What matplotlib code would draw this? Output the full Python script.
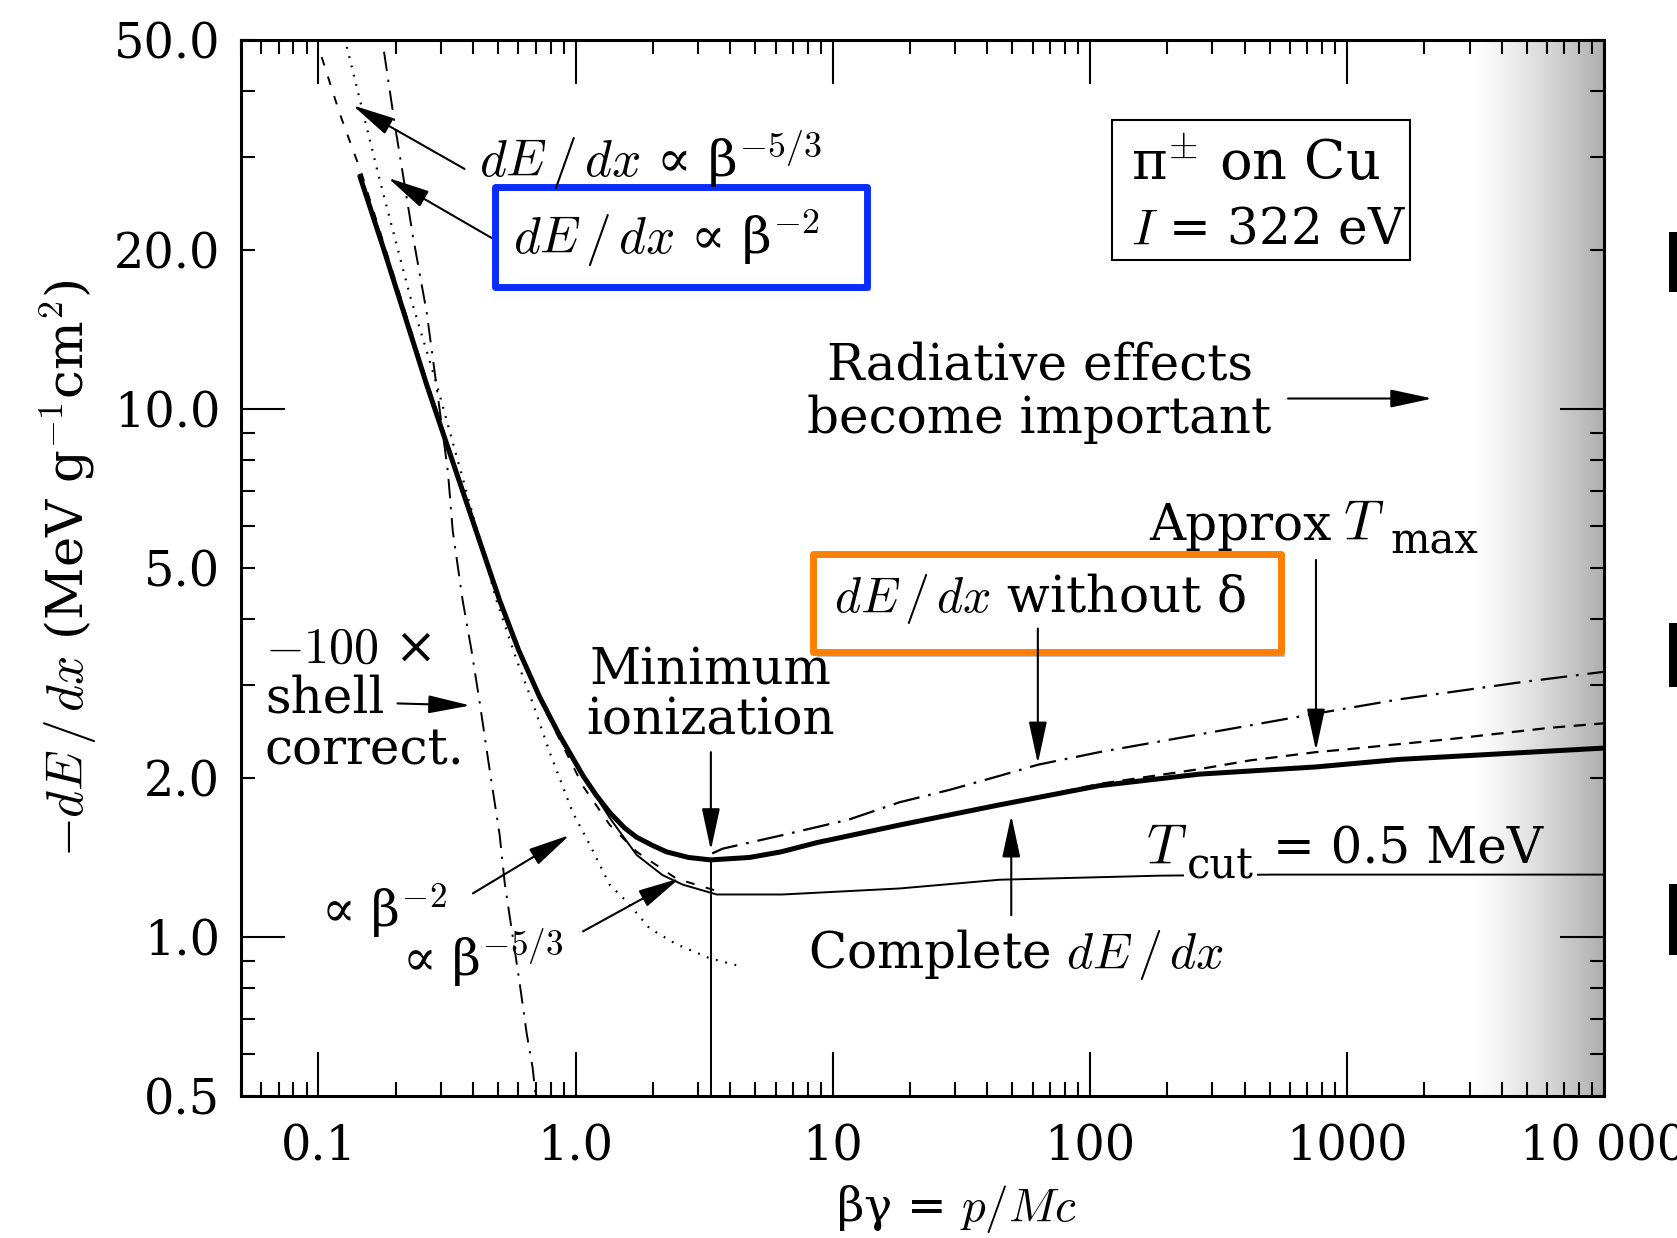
import matplotlib
matplotlib.use("Agg")
import matplotlib.pyplot as plt
import numpy as np
import matplotlib.patheffects as pe
from matplotlib.patches import Rectangle
from matplotlib.ticker import FixedLocator, FixedFormatter, FuncFormatter

plt.rcParams.update({
    "font.family": "serif",
    "font.serif": ["DejaVu Serif"],
    "mathtext.fontset": "cm",
    "font.size": 36,
})

# ---------- curves (beta*gamma, -dE/dx) ----------
complete_bg = [0.145, 0.18, 0.264, 0.507, 0.6, 0.725, 0.867, 1.07, 1.2, 1.36, 1.55,
               1.73, 2.0, 2.26, 2.75, 3.35, 4.75, 6.3, 8.7, 18.2, 44.6, 109, 267,
               759, 1600, 6120, 10000]
complete_val = [27.6, 20.0, 11.1, 4.34, 3.5, 2.85, 2.41, 2.02, 1.86, 1.72, 1.61,
                1.545, 1.49, 1.45, 1.415, 1.40, 1.415, 1.45, 1.51, 1.63, 1.78, 1.935,
                2.035, 2.10, 2.17, 2.25, 2.28]

no_delta_bg = [3.4, 3.73, 6.39, 11.6, 18.2, 28.5, 44.6, 62.8, 109, 267, 759, 1600, 4560, 10000]
no_delta_val = [1.44, 1.47, 1.56, 1.67, 1.80, 1.90, 2.02, 2.12, 2.24, 2.42, 2.65, 2.82, 3.03, 3.18]

tmax_bg = [18.2, 44.6, 109, 267, 418, 759, 1023, 1600, 2500, 6120, 10000]
tmax_val = [1.63, 1.78, 1.95, 2.08, 2.16, 2.24, 2.27, 2.32, 2.37, 2.49, 2.54]

tcut_bg = [1.07, 1.36, 1.73, 2.18, 2.61, 3.54, 6.39, 18.2, 44.6, 187, 514, 10000]
tcut_val = [2.02, 1.68, 1.43, 1.31, 1.257, 1.204, 1.204, 1.236, 1.284, 1.307, 1.313, 1.313]

beta2_bg = [0.129, 0.173, 0.227, 0.289, 0.493, 0.59, 0.681, 0.793, 0.976, 1.137,
            1.357, 1.58, 1.94, 2.47, 3.32, 4.35]
beta2_val = [48.5, 27.2, 16.4, 11.1, 4.34, 3.35, 2.78, 2.24, 1.72, 1.495,
             1.257, 1.168, 1.039, 0.969, 0.912, 0.881]

beta53_bg = [0.103, 0.121, 0.147, 0.18, 0.264, 0.507, 0.725, 1.07, 1.36, 1.73, 2.47, 3.6]
beta53_val = [46.4, 36.3, 28.0, 20.5, 11.3, 4.36, 2.82, 1.93, 1.63, 1.45, 1.29, 1.22]

shell_bg = [0.18, 0.198, 0.233, 0.264, 0.319, 0.333, 0.364, 0.394, 0.424, 0.463,
            0.507, 0.53, 0.607, 0.646, 0.681, 0.70]
shell_val = [47.5, 34.7, 21.3, 15.2, 7.6, 5.88, 4.34, 3.49, 2.78, 2.08,
             1.56, 1.27, 0.815, 0.656, 0.566, 0.50]

min_ion_bg = 3.36
min_ion_val = 1.40

x_major = [0.1, 1, 10, 100, 1000, 10000]
x_major_labels = ["0.1", "1.0", "10", "100", "1000", "10 000"]
y_major = [1, 10]
y_major_labels = ["1.0", "10.0"]
y_minor_labels = {0.5: "0.5", 2.0: "2.0", 5.0: "5.0", 20.0: "20.0", 50.0: "50.0"}

# ---------- figure ----------
fig = plt.figure(figsize=(16.77, 12.38), dpi=100)
ax = fig.add_axes([0.1437, 0.1147, 0.8128, 0.853])
ax.set_xscale("log")
ax.set_yscale("log")
ax.set_xlim(0.05, 10000)
ax.set_ylim(0.5, 50)

# shaded "radiative" band at the right edge
gax = ax.inset_axes([0.90, 0.0, 0.10, 1.0], zorder=0.5)
ramp = np.linspace(0, 1, 256) ** 1.3
rgba = np.zeros((1, 256, 4))
rgba[..., :3] = 0.45
rgba[..., 3] = ramp * 0.58
gax.imshow(rgba, aspect="auto", extent=(0, 1, 0, 1), interpolation="bilinear")
gax.axis("off")

# curves
ax.plot(complete_bg, complete_val, color="black", lw=3.6, solid_capstyle="round",
        solid_joinstyle="round", zorder=3)
ax.plot(tcut_bg, tcut_val, color="black", lw=1.4, zorder=2)
ax.plot(no_delta_bg, no_delta_val, color="black", lw=1.6,
        linestyle=(0, (12, 4, 1.2, 4)), zorder=2)
ax.plot(tmax_bg, tmax_val, color="black", lw=1.6, linestyle=(0, (5.5, 3.8)), zorder=2)
ax.plot(beta2_bg, beta2_val, color="black", lw=1.6, linestyle=(0, (0.8, 3.5)), zorder=2)
ax.plot(beta53_bg, beta53_val, color="black", lw=1.4, linestyle=(0, (4.5, 6)), zorder=2)
ax.plot(shell_bg, shell_val, color="black", lw=1.4,
        linestyle=(0, (10, 4.5, 1.2, 4.5)), zorder=2)
ax.vlines(min_ion_bg, 0.5, min_ion_val, color="black", lw=1.4, zorder=2)

# ---------- ticks ----------
ax.xaxis.set_major_locator(FixedLocator(x_major))
ax.xaxis.set_major_formatter(FixedFormatter(x_major_labels))
ax.xaxis.set_minor_locator(FixedLocator([m * 10.0 ** k for k in range(-2, 4) for m in range(2, 10)]))
ax.xaxis.set_minor_formatter(FuncFormatter(lambda v, p: ""))
ax.yaxis.set_major_locator(FixedLocator(y_major))
ax.yaxis.set_major_formatter(FixedFormatter(y_major_labels))
ax.yaxis.set_minor_locator(FixedLocator([m * 10.0 ** k for k in (-1, 0, 1) for m in range(2, 10)]))
ax.yaxis.set_minor_formatter(FuncFormatter(lambda v, p: y_minor_labels.get(round(v, 4), "")))
ax.tick_params(which="both", direction="in", top=True, right=True, width=1.5,
               labelsize=34.5)
ax.tick_params(which="major", length=32)
ax.tick_params(which="minor", length=10)
ax.tick_params(axis="x", which="both", pad=20)
ax.tick_params(axis="y", which="both", pad=15)
for s in ax.spines.values():
    s.set_linewidth(2.2)

ax.set_xlabel(r"βγ = $p/Mc$", fontsize=34)
ax.xaxis.set_label_coords(0.525, -0.082)
ax.set_ylabel(r"$-dE\,/\,dx$ (MeV g$^{-1}$cm$^{2}$)", fontsize=37)
ax.yaxis.set_label_coords(-0.104, 0.5)

# ---------- highlight boxes ----------
shadow = [pe.SimplePatchShadow(offset=(3, -3), shadow_rgbFace="0.55", alpha=0.5), pe.Normal()]
ax.add_patch(Rectangle((0.186, 0.766), 0.273, 0.095, transform=ax.transAxes,
                       facecolor="white", edgecolor="#0a2cff", lw=5, zorder=1,
                       joinstyle="round", path_effects=shadow))
ax.add_patch(Rectangle((0.4195, 0.42), 0.3437, 0.0933, transform=ax.transAxes,
                       facecolor="white", edgecolor="#ff8000", lw=5, zorder=1,
                       joinstyle="round", path_effects=shadow))
ax.add_patch(Rectangle((0.6392, 0.7918), 0.2182, 0.1326, transform=ax.transAxes,
                       fill=False, edgecolor="black", lw=1.5, zorder=1))

# ---------- text ----------
T = ax.transAxes
ax.text(0.1746, 0.8707, r"$dE\,/\,dx$ ∝ β$^{-5/3}$", transform=T, va="baseline", fontsize=37)
ax.text(0.1995, 0.7969, r"$dE\,/\,dx$ ∝ β$^{-2}$", transform=T, va="baseline", fontsize=37)
ax.text(0.6533, 0.8677, r"π$^{\pm}$ on Cu", transform=T, va="baseline", fontsize=39)
ax.text(0.6533, 0.8070, r"$I$ = 322 eV", transform=T, va="baseline", fontsize=36)
ax.text(0.5859, 0.6783, "Radiative effects", transform=T, va="baseline", ha="center")
ax.text(0.5859, 0.6278, "become important", transform=T, va="baseline", ha="center")
ax.text(0.6667, 0.5265, "Approx", transform=T, va="baseline")
ax.text(0.8085, 0.5265, r"$T$", transform=T, va="baseline", fontsize=40)
ax.text(0.8430, 0.5133, "max", transform=T, va="baseline", fontsize=30)
ax.text(0.4352, 0.4585, r"$dE\,/\,dx$ without δ", transform=T, va="baseline")
ax.text(0.3447, 0.3897, "Minimum", transform=T, va="baseline", ha="center")
ax.text(0.3447, 0.3421, "ionization", transform=T, va="baseline", ha="center")
ax.text(0.0176, 0.4100, r"$\mathit{-100}$ ×", transform=T, va="baseline")
ax.text(0.0176, 0.3627, "shell", transform=T, va="baseline")
ax.text(0.0176, 0.3137, "correct.", transform=T, va="baseline")
ax.text(0.0586, 0.1600, r"∝ β$^{-2}$", transform=T, va="baseline")
ax.text(0.1180, 0.1140, r"∝ β$^{-5/3}$", transform=T, va="baseline")
ax.text(0.6643, 0.2197, r"$T$", transform=T, va="baseline", fontsize=40)
ax.text(0.6942, 0.2055, "cut", transform=T, va="baseline", fontsize=30,
        bbox=dict(facecolor="white", edgecolor="none", pad=2), zorder=4)
ax.text(0.7570, 0.2197, "= 0.5 MeV", transform=T, va="baseline")
ax.text(0.5686, 0.1212, r"Complete $dE\,/\,dx$", transform=T, va="baseline", ha="center")

# ---------- arrows (tail -> tip, data coordinates) ----------
arrow_kw = dict(arrowstyle="-|>,head_length=1.3,head_width=0.28", color="black",
                lw=1.5, shrinkA=0, shrinkB=0, mutation_scale=20)
arrows = [
    ((0.37, 28.5), (0.136, 37.6)),
    ((0.4707, 21.1), (0.1865, 27.4)),
    ((0.203, 2.77), (0.39, 2.745)),
    ((0.399, 1.21), (0.949, 1.56)),
    ((1.069, 1.025), (2.54, 1.292)),
    ((min_ion_bg, 2.24), (min_ion_bg, 1.46)),
    ((62.8, 3.84), (62.8, 2.13)),
    ((758, 5.18), (758, 2.254)),
    ((49.5, 1.10), (49.5, 1.70)),
    ((590, 10.47), (2150, 10.47)),
]
for tail, tip in arrows:
    ax.annotate("", xy=tip, xytext=tail, arrowprops=arrow_kw, zorder=4)

# clipped glyphs of the neighbouring figure at the right edge
for y0, h in [(0.7641, 0.0485), (0.445, 0.0517), (0.2286, 0.0574)]:
    fig.add_artist(Rectangle((0.9952, y0), 0.0048, h, transform=fig.transFigure,
                             facecolor="black", edgecolor="none"))

fig.savefig("out.png", dpi=100)
